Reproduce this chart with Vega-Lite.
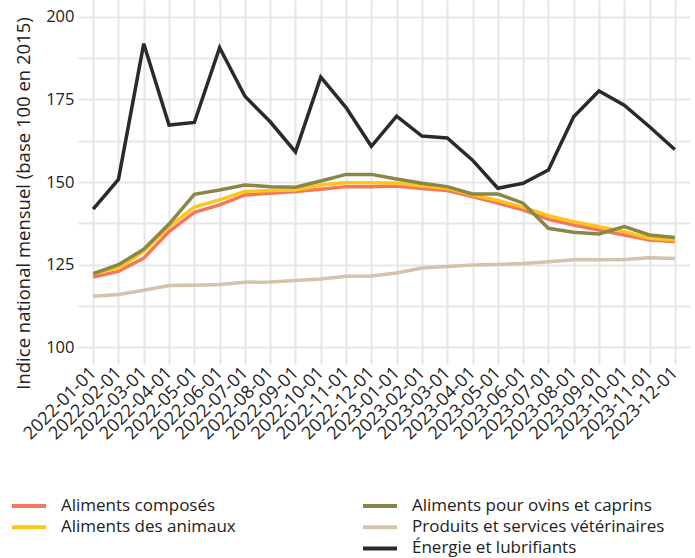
{
  "$schema": "https://vega.github.io/schema/vega-lite/v6.json",
  "width": 612,
  "height": 364,
  "autosize": "none",
  "padding": {"left": 78, "top": 0, "right": 5, "bottom": 194},
  "background": "white",
  "config": {
    "view": {"stroke": null},
    "font": "Open Sans",
    "axis": {
      "domain": false,
      "ticks": false,
      "gridColor": "#E6E6E6",
      "gridWidth": 2,
      "labelColor": "#222222",
      "labelFont": "Open Sans",
      "labelFontSize": 16,
      "titleFont": "Open Sans",
      "titleFontWeight": "normal",
      "titleColor": "#222222"
    },
    "legend": {
      "labelFont": "Open Sans",
      "labelFontSize": 17,
      "labelColor": "#222222",
      "labelLimit": 400
    }
  },
  "data": {
    "values": [
      {"date":"2022-01-01","series":"Aliments composés","value":121.3},
      {"date":"2022-02-01","series":"Aliments composés","value":123.0},
      {"date":"2022-03-01","series":"Aliments composés","value":127.0},
      {"date":"2022-04-01","series":"Aliments composés","value":135.0},
      {"date":"2022-05-01","series":"Aliments composés","value":140.8},
      {"date":"2022-06-01","series":"Aliments composés","value":143.1},
      {"date":"2022-07-01","series":"Aliments composés","value":146.1},
      {"date":"2022-08-01","series":"Aliments composés","value":146.6},
      {"date":"2022-09-01","series":"Aliments composés","value":147.1},
      {"date":"2022-10-01","series":"Aliments composés","value":147.8},
      {"date":"2022-11-01","series":"Aliments composés","value":148.6},
      {"date":"2022-12-01","series":"Aliments composés","value":148.6},
      {"date":"2023-01-01","series":"Aliments composés","value":148.8},
      {"date":"2023-02-01","series":"Aliments composés","value":148.0},
      {"date":"2023-03-01","series":"Aliments composés","value":147.4},
      {"date":"2023-04-01","series":"Aliments composés","value":145.6},
      {"date":"2023-05-01","series":"Aliments composés","value":143.6},
      {"date":"2023-06-01","series":"Aliments composés","value":141.6},
      {"date":"2023-07-01","series":"Aliments composés","value":138.7},
      {"date":"2023-08-01","series":"Aliments composés","value":137.0},
      {"date":"2023-09-01","series":"Aliments composés","value":135.5},
      {"date":"2023-10-01","series":"Aliments composés","value":134.0},
      {"date":"2023-11-01","series":"Aliments composés","value":132.5},
      {"date":"2023-12-01","series":"Aliments composés","value":132.0},
      {"date":"2022-01-01","series":"Aliments des animaux","value":122.3},
      {"date":"2022-02-01","series":"Aliments des animaux","value":124.0},
      {"date":"2022-03-01","series":"Aliments des animaux","value":129.0},
      {"date":"2022-04-01","series":"Aliments des animaux","value":136.5},
      {"date":"2022-05-01","series":"Aliments des animaux","value":142.4},
      {"date":"2022-06-01","series":"Aliments des animaux","value":144.6},
      {"date":"2022-07-01","series":"Aliments des animaux","value":147.1},
      {"date":"2022-08-01","series":"Aliments des animaux","value":147.4},
      {"date":"2022-09-01","series":"Aliments des animaux","value":147.6},
      {"date":"2022-10-01","series":"Aliments des animaux","value":149.1},
      {"date":"2022-11-01","series":"Aliments des animaux","value":149.8},
      {"date":"2022-12-01","series":"Aliments des animaux","value":149.8},
      {"date":"2023-01-01","series":"Aliments des animaux","value":149.6},
      {"date":"2023-02-01","series":"Aliments des animaux","value":148.8},
      {"date":"2023-03-01","series":"Aliments des animaux","value":148.1},
      {"date":"2023-04-01","series":"Aliments des animaux","value":146.1},
      {"date":"2023-05-01","series":"Aliments des animaux","value":144.4},
      {"date":"2023-06-01","series":"Aliments des animaux","value":142.4},
      {"date":"2023-07-01","series":"Aliments des animaux","value":139.8},
      {"date":"2023-08-01","series":"Aliments des animaux","value":138.0},
      {"date":"2023-09-01","series":"Aliments des animaux","value":136.5},
      {"date":"2023-10-01","series":"Aliments des animaux","value":135.0},
      {"date":"2023-11-01","series":"Aliments des animaux","value":133.0},
      {"date":"2023-12-01","series":"Aliments des animaux","value":132.5},
      {"date":"2022-01-01","series":"Aliments pour ovins et caprins","value":122.3},
      {"date":"2022-02-01","series":"Aliments pour ovins et caprins","value":125.0},
      {"date":"2022-03-01","series":"Aliments pour ovins et caprins","value":129.7},
      {"date":"2022-04-01","series":"Aliments pour ovins et caprins","value":137.3},
      {"date":"2022-05-01","series":"Aliments pour ovins et caprins","value":146.3},
      {"date":"2022-06-01","series":"Aliments pour ovins et caprins","value":147.6},
      {"date":"2022-07-01","series":"Aliments pour ovins et caprins","value":149.1},
      {"date":"2022-08-01","series":"Aliments pour ovins et caprins","value":148.6},
      {"date":"2022-09-01","series":"Aliments pour ovins et caprins","value":148.4},
      {"date":"2022-10-01","series":"Aliments pour ovins et caprins","value":150.3},
      {"date":"2022-11-01","series":"Aliments pour ovins et caprins","value":152.3},
      {"date":"2022-12-01","series":"Aliments pour ovins et caprins","value":152.3},
      {"date":"2023-01-01","series":"Aliments pour ovins et caprins","value":150.9},
      {"date":"2023-02-01","series":"Aliments pour ovins et caprins","value":149.6},
      {"date":"2023-03-01","series":"Aliments pour ovins et caprins","value":148.6},
      {"date":"2023-04-01","series":"Aliments pour ovins et caprins","value":146.4},
      {"date":"2023-05-01","series":"Aliments pour ovins et caprins","value":146.4},
      {"date":"2023-06-01","series":"Aliments pour ovins et caprins","value":143.6},
      {"date":"2023-07-01","series":"Aliments pour ovins et caprins","value":136.0},
      {"date":"2023-08-01","series":"Aliments pour ovins et caprins","value":134.8},
      {"date":"2023-09-01","series":"Aliments pour ovins et caprins","value":134.3},
      {"date":"2023-10-01","series":"Aliments pour ovins et caprins","value":136.5},
      {"date":"2023-11-01","series":"Aliments pour ovins et caprins","value":134.0},
      {"date":"2023-12-01","series":"Aliments pour ovins et caprins","value":133.2},
      {"date":"2022-01-01","series":"Produits et services vétérinaires","value":115.5},
      {"date":"2022-02-01","series":"Produits et services vétérinaires","value":116.0},
      {"date":"2022-03-01","series":"Produits et services vétérinaires","value":117.3},
      {"date":"2022-04-01","series":"Produits et services vétérinaires","value":118.7},
      {"date":"2022-05-01","series":"Produits et services vétérinaires","value":118.8},
      {"date":"2022-06-01","series":"Produits et services vétérinaires","value":119.0},
      {"date":"2022-07-01","series":"Produits et services vétérinaires","value":119.7},
      {"date":"2022-08-01","series":"Produits et services vétérinaires","value":119.8},
      {"date":"2022-09-01","series":"Produits et services vétérinaires","value":120.2},
      {"date":"2022-10-01","series":"Produits et services vétérinaires","value":120.7},
      {"date":"2022-11-01","series":"Produits et services vétérinaires","value":121.5},
      {"date":"2022-12-01","series":"Produits et services vétérinaires","value":121.6},
      {"date":"2023-01-01","series":"Produits et services vétérinaires","value":122.5},
      {"date":"2023-02-01","series":"Produits et services vétérinaires","value":124.0},
      {"date":"2023-03-01","series":"Produits et services vétérinaires","value":124.5},
      {"date":"2023-04-01","series":"Produits et services vétérinaires","value":124.9},
      {"date":"2023-05-01","series":"Produits et services vétérinaires","value":125.1},
      {"date":"2023-06-01","series":"Produits et services vétérinaires","value":125.4},
      {"date":"2023-07-01","series":"Produits et services vétérinaires","value":125.9},
      {"date":"2023-08-01","series":"Produits et services vétérinaires","value":126.5},
      {"date":"2023-09-01","series":"Produits et services vétérinaires","value":126.5},
      {"date":"2023-10-01","series":"Produits et services vétérinaires","value":126.6},
      {"date":"2023-11-01","series":"Produits et services vétérinaires","value":127.1},
      {"date":"2023-12-01","series":"Produits et services vétérinaires","value":126.9},
      {"date":"2022-01-01","series":"Énergie et lubrifiants","value":141.8},
      {"date":"2022-02-01","series":"Énergie et lubrifiants","value":150.8},
      {"date":"2022-03-01","series":"Énergie et lubrifiants","value":191.8},
      {"date":"2022-04-01","series":"Énergie et lubrifiants","value":167.2},
      {"date":"2022-05-01","series":"Énergie et lubrifiants","value":168.0},
      {"date":"2022-06-01","series":"Énergie et lubrifiants","value":190.6},
      {"date":"2022-07-01","series":"Énergie et lubrifiants","value":175.9},
      {"date":"2022-08-01","series":"Énergie et lubrifiants","value":168.2},
      {"date":"2022-09-01","series":"Énergie et lubrifiants","value":159.1},
      {"date":"2022-10-01","series":"Énergie et lubrifiants","value":181.7},
      {"date":"2022-11-01","series":"Énergie et lubrifiants","value":172.5},
      {"date":"2022-12-01","series":"Énergie et lubrifiants","value":160.8},
      {"date":"2023-01-01","series":"Énergie et lubrifiants","value":169.9},
      {"date":"2023-02-01","series":"Énergie et lubrifiants","value":163.9},
      {"date":"2023-03-01","series":"Énergie et lubrifiants","value":163.3},
      {"date":"2023-04-01","series":"Énergie et lubrifiants","value":156.6},
      {"date":"2023-05-01","series":"Énergie et lubrifiants","value":148.1},
      {"date":"2023-06-01","series":"Énergie et lubrifiants","value":149.6},
      {"date":"2023-07-01","series":"Énergie et lubrifiants","value":153.6},
      {"date":"2023-08-01","series":"Énergie et lubrifiants","value":169.7},
      {"date":"2023-09-01","series":"Énergie et lubrifiants","value":177.5},
      {"date":"2023-10-01","series":"Énergie et lubrifiants","value":173.2},
      {"date":"2023-11-01","series":"Énergie et lubrifiants","value":166.7},
      {"date":"2023-12-01","series":"Énergie et lubrifiants","value":159.8}
    ]
  },
  "encoding": {
    "x": {
      "field": "date",
      "type": "ordinal",
      "scale": {"type": "point", "padding": 0.6},
      "axis": {
        "title": null,
        "labelAngle": -45,
        "labelAlign": "right",
        "labelBaseline": "middle",
        "labelFontSize": 18,
        "labelPadding": 6,
        "grid": true
      }
    },
    "y": {
      "field": "value",
      "type": "quantitative",
      "scale": {"domain": [95, 205], "nice": false, "zero": false},
      "axis": {
        "title": "Indice national mensuel (base 100 en 2015)",
        "titleFontSize": 18.5,
        "titlePadding": 12,
        "titleY": 203,
        "values": [100, 112.5, 125, 137.5, 150, 162.5, 175, 187.5, 200],
        "labelExpr": "datum.value % 25 === 0 ? datum.label : ''",
        "labelFontSize": 16.5,
        "labelPadding": 4
      }
    }
  },
  "layer": [
    {
      "transform": [{"filter": "datum.series === 'Aliments composés' || datum.series === 'Aliments des animaux'"}],
      "mark": {"type": "line", "strokeWidth": 3.5},
      "encoding": {
        "color": {
          "field": "series",
          "type": "nominal",
          "scale": {"domain": ["Aliments composés", "Aliments des animaux"], "range": ["#F5765A", "#FCC51A"]},
          "legend": {
            "orient": "none",
            "legendX": -61,
            "legendY": 494,
            "title": null,
            "symbolType": "M-1.7,0H1.7",
            "symbolStrokeWidth": 4,
            "symbolSize": 400,
            "labelOffset": 20,
            "rowPadding": 1.2
          }
        }
      }
    },
    {
      "transform": [{"filter": "datum.series !== 'Aliments composés' && datum.series !== 'Aliments des animaux'"}],
      "mark": {"type": "line", "strokeWidth": 3.5},
      "encoding": {
        "stroke": {
          "field": "series",
          "type": "nominal",
          "scale": {"domain": ["Aliments pour ovins et caprins", "Produits et services vétérinaires", "Énergie et lubrifiants"], "range": ["#8A8548", "#D3C3AB", "#2A2A2A"]},
          "legend": {
            "orient": "none",
            "legendX": 290,
            "legendY": 494,
            "title": null,
            "symbolType": "M-1.7,0H1.7",
            "symbolStrokeWidth": 4,
            "symbolSize": 400,
            "labelOffset": 20,
            "rowPadding": 1.2
          }
        }
      }
    }
  ]
}
